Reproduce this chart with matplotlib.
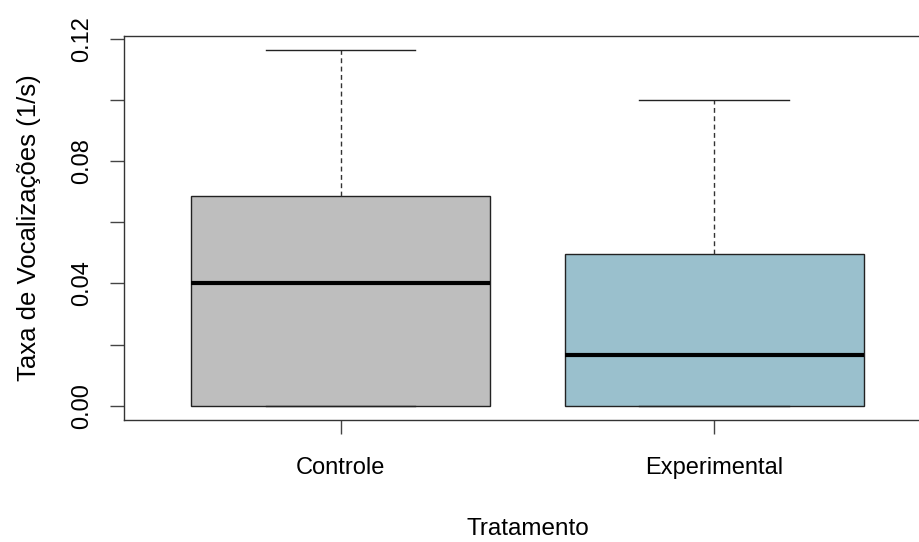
import matplotlib
matplotlib.use('Agg')
import matplotlib.pyplot as plt

# Five-number summaries per group (rate of vocalisations, 1/s)
grupos = ['Controle', 'Experimental']
minimos = [0.0, 0.0]
q1 = [0.0, 0.0]
medianas = [0.040, 0.0165]
q3 = [0.0685, 0.0497]
maximos = [0.1164, 0.1001]
cores = ['#BEBEBE', '#9AC0CD']

plt.rcParams['font.family'] = ['Liberation Sans', 'DejaVu Sans']
FONTSIZE = 17

stats = []
for i, g in enumerate(grupos):
    stats.append({'label': g, 'whislo': minimos[i], 'q1': q1[i],
                  'med': medianas[i], 'q3': q3[i], 'whishi': maximos[i],
                  'fliers': []})

fig = plt.figure(figsize=(9.19, 5.42), dpi=100)
ax = fig.add_axes([0.1349, 0.2251, 0.878, 0.7091])

bp = ax.bxp(stats, positions=[1, 2], widths=0.8, capwidths=0.4,
            patch_artist=True, showfliers=False,
            boxprops=dict(edgecolor='#222222', linewidth=1.0),
            medianprops=dict(color='black', linewidth=3.0, solid_capstyle='butt'),
            whiskerprops=dict(color='#333333', linewidth=1.0, linestyle=(0, (3.5, 2.5))),
            capprops=dict(color='#222222', linewidth=1.0))
for patch, c in zip(bp['boxes'], cores):
    patch.set_facecolor(c)

# R-style 4% padding around the data range
ymax = max(maximos)
ax.set_ylim(-0.04 * ymax, 1.04 * ymax)
ax.set_xlim(0.42, 2.58)

ax.set_yticks([0.0, 0.02, 0.04, 0.06, 0.08, 0.10, 0.12])
ax.set_yticklabels(['0.00', '', '0.04', '', '0.08', '', '0.12'])
ax.set_xticks([1, 2])
ax.set_xticklabels(grupos)

for s in ax.spines.values():
    s.set_color('#333333')
    s.set_linewidth(1.0)
ax.tick_params(axis='both', length=10, width=1.0, color='#444444',
               labelsize=FONTSIZE)
ax.tick_params(axis='y', pad=12)
ax.tick_params(axis='x', pad=17)
for lab in ax.get_yticklabels():
    lab.set_rotation(90)
    lab.set_va('center')

ax.set_xlabel('Tratamento', fontsize=FONTSIZE + 0.5, labelpad=28)
ax.set_ylabel('Taxa de Vocalizações (1/s)', fontsize=18.5, labelpad=22)

fig.savefig('out.png', dpi=100)
